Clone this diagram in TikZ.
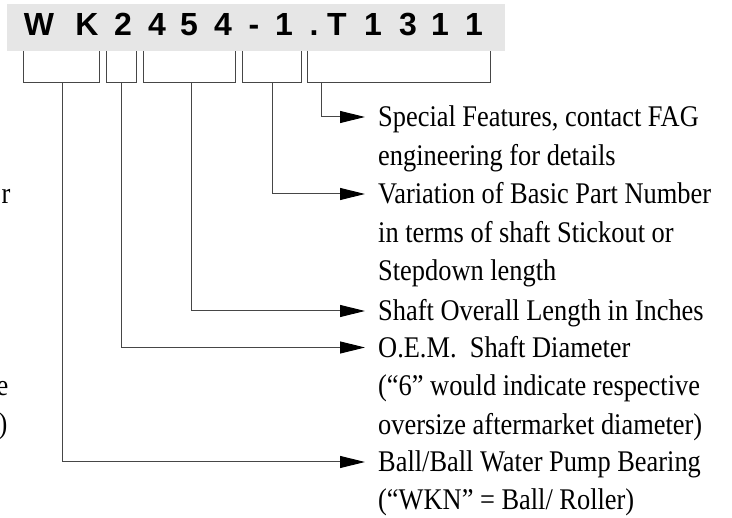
\documentclass[tikz,border=0pt]{standalone}
\usepackage{fontspec}
\usepackage{tikz}
\usetikzlibrary{arrows.meta, positioning}
\newfontfamily\lblfont{Liberation Serif}[FakeStretch=0.88]
\newfontfamily\codefont{Liberation Sans}
\definecolor{bandgray}{RGB}{230,230,230}
\definecolor{linegray}{RGB}{70,70,70}

\begin{document}
\begin{tikzpicture}[x=1pt, y=-1pt,
    code/.style={font=\codefont\bfseries\fontsize{32}{32}\selectfont, anchor=base, inner sep=0pt},
    lbl/.style={font=\lblfont\fontsize{30}{36}\selectfont, anchor=west, inner xsep=13pt, inner ysep=0pt, text height=20pt, text depth=0pt},
    frag/.style={font=\lblfont\fontsize{30}{36}\selectfont, anchor=base east, inner sep=0pt},
    brk/.style={linegray, line width=1pt},
    arr/.style={-{Triangle[length=25pt, width=12pt, black]}, linegray, line width=1pt}
]
\useasboundingbox (0,0) rectangle (732,518);
\fill[bandgray] (7,4) rectangle (505,51);

\foreach \c/\x [count=\i] in {W/39, K/87, 2/123, 4/157, 5/189, 4/223, -/254, 1/284, ./314, T/337, 1/373, 3/408, 1/440, 1/474}
    \node[code] (ch\i) at (\x,36) {\c};

\foreach \l/\r in {23/99, 106/136, 143/235, 242/301, 307/490}
    \draw[brk] (\l,51) |- (\r,83) -- (\r,51);

\coordinate (b1) at (62,83);
\coordinate (b2) at (121,83);
\coordinate (b3) at (191,83);
\coordinate (b4) at (272,83);
\coordinate (b5) at (321,83);

\node[lbl] (feat) at (365,117) {Special Features, contact FAG};
\node[lbl] (feat2) at (365,155.5) {engineering for details};
\node[lbl] (var) at (365,194) {Variation of Basic Part Number};
\node[lbl] (var2) at (365,232.5) {in terms of shaft Stickout or};
\node[lbl] (var3) at (365,271) {Stepdown length};
\node[lbl] (len) at (365,311) {Shaft Overall Length in Inches};
\node[lbl] (dia) at (365,347.5) {O.E.M.\ \ Shaft Diameter};
\node[lbl] (dia2) at (365,386) {(“6” would indicate respective};
\node[lbl] (dia3) at (365,424.5) {oversize aftermarket diameter)};
\node[lbl] (bear) at (365,462) {Ball/Ball Water Pump Bearing};
\node[lbl] (bear2) at (365,500) {(“WKN” = Ball/ Roller)};

\node[frag] (fr1) at (10.5,204) {r};
\node[frag] (fr2) at (8.5,396) {e};
\node[frag] (fr3) at (7.5,434) {)};

\draw[arr] (b5) |- (feat);
\draw[arr] (b4) |- (var);
\draw[arr] (b3) |- (len);
\draw[arr] (b2) |- (dia);
\draw[arr] (b1) |- (bear);
\end{tikzpicture}
\end{document}
